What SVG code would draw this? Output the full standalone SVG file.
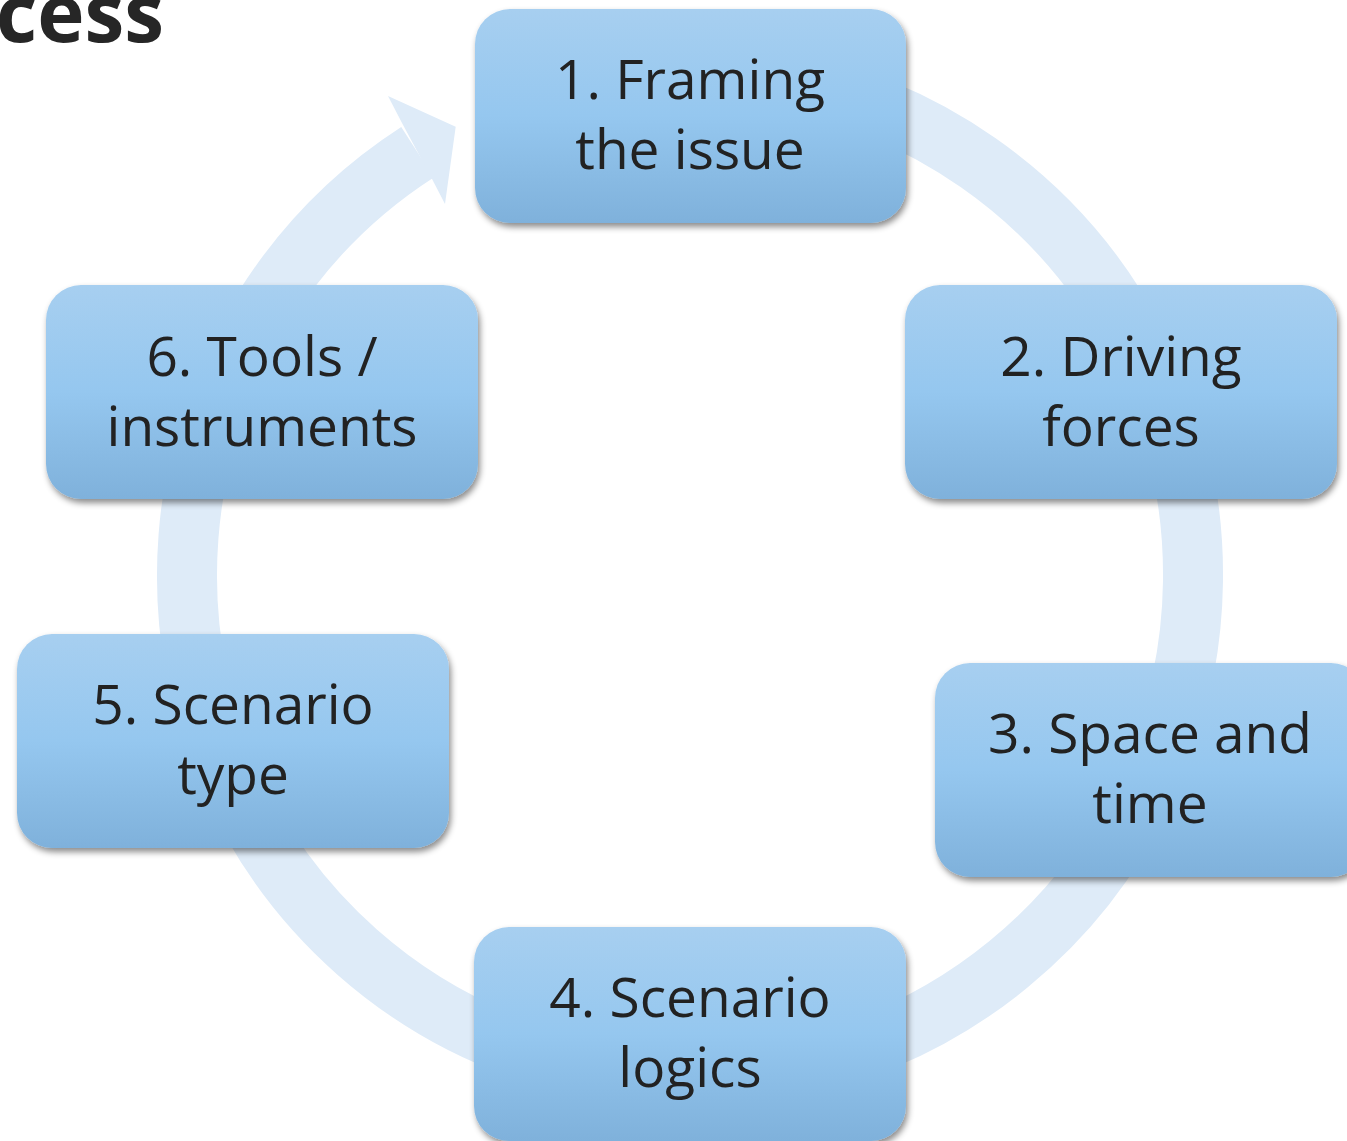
<svg xmlns="http://www.w3.org/2000/svg" width="1347" height="1141" viewBox="0 0 1347 1141">
<defs>
<linearGradient id="g" x1="0" y1="0" x2="0" y2="1">
<stop offset="0" stop-color="#A7CFF0"/>
<stop offset="0.5" stop-color="#95C7EF"/>
<stop offset="1" stop-color="#7FB1DB"/>
</linearGradient>
<filter id="sh" x="-10%" y="-10%" width="125%" height="130%">
<feDropShadow dx="2" dy="4" stdDeviation="3" flood-color="#000" flood-opacity="0.45"/>
</filter>
<style>
.box{fill:url(#g);filter:url(#sh)}
.t{font-family:"Open Sans","Noto Sans",sans-serif;font-size:55px;fill:#222;text-anchor:middle}
.ring{fill:none;stroke:#DEEBF8;stroke-width:60}
</style>
</defs>
<rect width="1347" height="1141" fill="#fff"/>
<text x="164" y="42" font-family="'Open Sans','Noto Sans',sans-serif" font-weight="bold" font-size="80" fill="#262626" text-anchor="end">cess</text>
<g id="connectors">
<path class="ring" d="M 777.3 79.6 A 503 503 0 1 1 417.5 152.2"/>
<polygon points="388,96 455.7,126.7 445,204 431,177 402,123" fill="#DEEBF8"/>
</g>
<g id="node1"><rect class="box" x="475" y="9" width="431" height="214" rx="35"/><text class="t" x="690" y="99">1. Framing</text><text class="t" x="690" y="169">the issue</text></g>
<g id="node2"><rect class="box" x="905" y="285" width="432" height="214" rx="35"/><text class="t" x="1121" y="376">2. Driving</text><text class="t" x="1121" y="446">forces</text></g>
<g id="node3"><rect class="box" x="935" y="663" width="431" height="214" rx="35"/><text class="t" x="1150" y="753">3. Space and</text><text class="t" x="1150" y="823">time</text></g>
<g id="node4"><rect class="box" x="474" y="927" width="432" height="214" rx="35"/><text class="t" x="690" y="1017">4. Scenario</text><text class="t" x="690" y="1087">logics</text></g>
<g id="node5"><rect class="box" x="17" y="634" width="432" height="214" rx="35"/><text class="t" x="233" y="724">5. Scenario</text><text class="t" x="233" y="794">type</text></g>
<g id="node6"><rect class="box" x="46" y="285" width="432" height="214" rx="35"/><text class="t" x="262" y="376">6. Tools /</text><text class="t" x="262" y="446">instruments</text></g>
</svg>
